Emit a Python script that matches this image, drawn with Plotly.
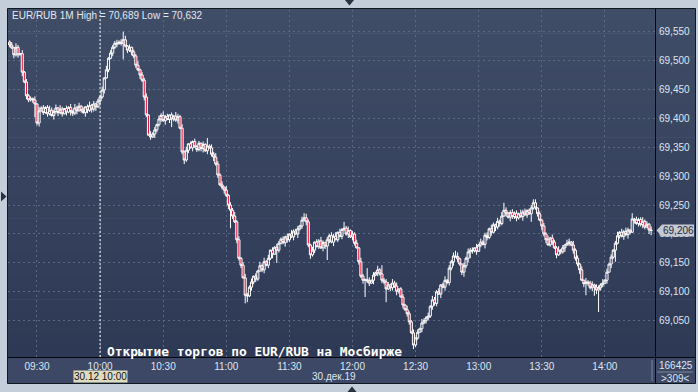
import plotly.graph_objects as go
import pandas as pd

# ------------------------------------------------------------------ data
start_time = "2019-12-30 09:17"          # first 1-minute candle
first_open = 532                          # thousandths above 69.000

closes_milli = [
    527, 522, 510, 523, 510, 512, 480, 463, 439, 432,
    434, 432, 425, 392, 413, 418, 410, 419, 408, 414,
    405, 412, 418, 410, 416, 408, 417, 411, 419, 412,
    409, 418, 413, 421, 414, 410, 420, 414, 422, 416,
    425, 420, 430, 437, 449, 470, 484, 504, 513, 523,
    530, 529, 532, 530, 536, 525, 518, 523, 515, 508,
    492, 484, 475, 466, 437, 406, 371, 368, 373, 380,
    389, 399, 405, 396, 403, 398, 406, 399, 404, 397,
    403, 383, 342, 328, 345, 356, 349, 360, 351, 346,
    357, 348, 355, 344, 352, 349, 338, 333, 321, 302,
    285, 281, 276, 267, 250, 241, 231, 221, 190, 158,
    146, 124, 94, 93, 108, 117, 127, 122, 136, 145,
    138, 152, 146, 158, 172, 165, 177, 172, 184, 191,
    185, 195, 190, 200, 195, 205, 200, 209, 214, 224,
    228, 221, 181, 164, 172, 186, 178, 188, 176, 185,
    179, 190, 197, 186, 196, 190, 203, 196, 208, 210,
    200, 206, 195, 200, 184, 176, 152, 127, 120, 121,
    119, 115, 120, 129, 133, 138, 131, 120, 117, 105,
    112, 107, 115, 110, 101, 105, 91, 77, 69, 62,
    48, 29, 8, 20, 30, 36, 46, 50, 55, 58,
    75, 86, 80, 100, 96, 112, 108, 120, 116, 141,
    152, 162, 161, 157, 148, 134, 145, 158, 169, 172,
    171, 176, 170, 181, 186, 182, 198, 194, 209, 203,
    216, 212, 222, 218, 231, 241, 236, 229, 237, 230,
    236, 228, 235, 230, 238, 233, 241, 235, 245, 254,
    245, 235, 224, 214, 200, 190, 181, 193, 186, 176,
    164, 172, 169, 176, 181, 184, 186, 181, 172, 158,
    148, 138, 120, 114, 117, 115, 107, 112, 108, 103,
    107, 112, 115, 120, 134, 148, 160, 172, 184, 197,
    203, 196, 204, 199, 207, 203, 226, 224, 218, 225,
    216, 222, 212, 217, 207, 206,
]

# upper / lower shadows per candle (thousandths), one digit per candle
wick_up_digits = (
    "3527416253 4261735248 5362741526 3746251473 5243617254 "
    "4635272514 3725461735 2647351427 5372614253 4152736425 "
    "3617254736 2574361527 4736152643 5261734526 3742615374 "
    "2536471625 4725361742 3615273645 5274613527 4361527436 "
    "2753614725 3647215364 5172634527 4263715246 3527461352 "
    "6142537264 3725146273 5261734625 4372615247 2637415263 "
    "473526"
)
wick_dn_digits = (
    "4263517264 3572614253 2746351627 5361427536 4725361425 "
    "3614725364 5273641527 4352716243 6247351624 3572614735 "
    "2463715264 5137264531 4625371642 3754261735 2647351426 "
    "5362714253 3726415362 4517263547 2653741625 5274316254 "
    "3645172635 4726351472 5361427536 2745316274 4632715263 "
    "3527461352 6243715264 4716253647 3542617352 5263741625 "
    "364271"
)

# long shadows (absolute, thousandths above 69.000)
high_spikes = {3: 527, 54: 550, 94: 366, 98: 340, 140: 236, 159: 221,
               170: 141, 177: 146, 212: 171, 235: 254, 249: 260, 265: 190,
               296: 236}
low_spikes = {12: 402, 13: 388, 54: 502, 77: 385, 105: 210, 112: 80,
              113: 82, 127: 150, 151: 155, 169: 91, 179: 82, 192: 3,
              207: 112, 216: 126, 219: 158, 248: 221, 274: 94, 278: 93,
              280: 65, 288: 152, 305: 198}

base_price = 69.0
last_price = 69.206
last_price_text = "69,206"

y_tick_vals = [69.05, 69.10, 69.15, 69.20, 69.25, 69.30, 69.35, 69.40, 69.45, 69.50, 69.55]
y_tick_text = ["69,050", "69,100", "69,150", "69,200", "69,250", "69,300",
               "69,350", "69,400", "69,450", "69,500", "69,550"]
x_tick_labels = ["09:30", "10:00", "10:30", "11:00", "11:30", "12:00",
                 "12:30", "13:00", "13:30", "14:00"]
x_range = ["2019-12-30 09:16:13", "2019-12-30 14:23:50"]
y_range = [68.9872, 69.5875]
marker_time = "2019-12-30 10:00"

title_text = "EUR/RUB 1M High = 70,689 Low = 70,632"
event_text = "Открытие торгов по EUR/RUB на Мосбирже"
marker_label = "30.12 10:00"
date_label = "30.дек.19"
volume_text = "166425"
count_text = ">309<"

# ------------------------------------------------------------------ build OHLC
n = len(closes_milli)
times = pd.date_range(start_time, periods=n, freq="1min")
opens_milli = [first_open] + closes_milli[:-1]
wu = [int(c) for c in wick_up_digits.replace(" ", "")]
wd = [int(c) for c in wick_dn_digits.replace(" ", "")]
if len(wu) < n:
    wu += [3] * (n - len(wu))
if len(wd) < n:
    wd += [3] * (n - len(wd))
highs_milli, lows_milli = [], []
for i in range(n):
    o, c = opens_milli[i], closes_milli[i]
    h = max(o, c) + wu[i]
    l = min(o, c) - wd[i]
    if i in high_spikes:
        h = max(h, high_spikes[i])
    if i in low_spikes:
        l = min(l, low_spikes[i])
    highs_milli.append(h)
    lows_milli.append(l)

to_price = lambda arr: [round(base_price + v / 1000.0, 3) for v in arr]

fig = go.Figure()
fig.add_trace(go.Candlestick(
    x=times,
    open=to_price(opens_milli), high=to_price(highs_milli),
    low=to_price(lows_milli), close=to_price(closes_milli),
    increasing=dict(line=dict(color="#ffffff", width=1), fillcolor="rgba(0,0,0,0)"),
    decreasing=dict(line=dict(color="#ffffff", width=1), fillcolor="#e8163c"),
    whiskerwidth=0, showlegend=False, hoverinfo="skip",
))

# ------------------------------------------------------------------ layout geometry
W, H = 698, 392
ML, MR, MT, MB = 8, 43, 10, 35
PW, PH = W - ML - MR, H - MT - MB
BOT = H - MB


def px(x):
    return (x - ML) / PW


def py(y):
    return (BOT - y) / PH


shapes = []
# gradient background for plot + right axis panel
top_c = (64, 77, 103)
bot_c = (46, 57, 85)
NB = 30
for k in range(NB):
    f = (k + 0.5) / NB
    col = tuple(round(top_c[j] + (bot_c[j] - top_c[j]) * f) for j in range(3))
    y0 = MT + (BOT - MT) * k / NB
    y1 = MT + (BOT - MT) * (k + 1) / NB + 0.6
    shapes.append(dict(type="rect", xref="paper", yref="paper", layer="below",
                       x0=px(7.5), x1=px(695.5), y0=py(y1), y1=py(y0),
                       fillcolor="rgb(%d,%d,%d)" % col, line=dict(width=0)))
shapes.append(dict(type="rect", xref="paper", yref="paper", layer="below",
                   x0=px(7.5), x1=px(695.5), y0=py(MT), y1=py(8.5),
                   fillcolor="rgb(64,77,103)", line=dict(width=0)))
# bottom time strip
shapes.append(dict(type="rect", xref="paper", yref="paper", layer="below",
                   x0=px(7.5), x1=px(695.5), y0=py(383.5), y1=py(BOT),
                   fillcolor="#3c4865", line=dict(width=0)))
# panel border
shapes.append(dict(type="rect", xref="paper", yref="paper", layer="above",
                   x0=px(7.5), x1=px(695.5), y0=py(383.5), y1=py(8.5),
                   fillcolor="rgba(0,0,0,0)", line=dict(color="#101820", width=1)))
# separator lines
shapes.append(dict(type="line", xref="paper", yref="paper", layer="above",
                   x0=px(7.5), x1=px(695.5), y0=py(BOT + 0.5), y1=py(BOT + 0.5),
                   line=dict(color="#05080c", width=1)))
shapes.append(dict(type="line", xref="paper", yref="paper", layer="above",
                   x0=px(655.5), x1=px(655.5), y0=py(383.5), y1=py(8.5),
                   line=dict(color="#05080c", width=1)))
shapes.append(dict(type="line", xref="paper", yref="paper", layer="above",
                   x0=px(652), x1=px(652), y0=py(381), y1=py(360),
                   line=dict(color="#7b879c", width=1)))
shapes.append(dict(type="line", xref="paper", yref="paper", layer="above",
                   x0=px(657), x1=px(693), y0=py(372), y1=py(372),
                   line=dict(color="#7b879c", width=1)))
# marker line at session open
shapes.append(dict(type="line", xref="x", yref="paper", layer="above",
                   x0=marker_time, x1=marker_time, y0=0, y1=1,
                   line=dict(color="#ffffff", width=1, dash="2px,2px")))


def tri(points, color):
    p = "M " + " L ".join("%f %f" % (px(a), py(b)) for a, b in points) + " Z"
    return dict(type="path", xref="paper", yref="paper", layer="above", path=p,
                fillcolor=color, line=dict(width=0))


shapes.append(tri([(345, 0), (354, 0), (349.5, 5.5)], "#26323f"))
shapes.append(tri([(1, 191.5), (1, 201.5), (6.5, 196.5)], "#26323f"))
shapes.append(tri([(347.5, 392), (356.5, 392), (352, 386.5)], "#26323f"))
# last-price tag
tag_y = BOT - (last_price - y_range[0]) / (y_range[1] - y_range[0]) * PH
shapes.append(tri([(656.5, tag_y), (662, tag_y - 6), (694, tag_y - 6),
                   (694, tag_y + 6), (662, tag_y + 6)], "#c5c9d1"))

annotations = [
    dict(text=title_text, xref="paper", yref="paper", x=px(10), y=py(15.5),
         xanchor="left", yanchor="middle", showarrow=False,
         font=dict(family="Liberation Sans", size=10, color="#e2e8f2")),
    dict(text="<b>" + event_text + "</b>", xref="paper", yref="paper", x=px(105), y=py(351.5),
         xanchor="left", yanchor="middle", showarrow=False,
         font=dict(family="DejaVu Sans Mono", size=12.9, color="#ffffff")),
    dict(text=marker_label, xref="paper", yref="paper", x=px(100.5), y=py(377),
         xanchor="center", yanchor="middle", showarrow=False, bgcolor="#dedcc0",
         borderpad=0, font=dict(family="Liberation Sans", size=10, color="#111111")),
    dict(text=date_label, xref="paper", yref="paper", x=px(334), y=py(377),
         xanchor="center", yanchor="middle", showarrow=False,
         font=dict(family="Liberation Sans", size=10, color="#dde5f2")),
    dict(text=volume_text, xref="paper", yref="paper", x=px(675.5), y=py(365),
         xanchor="center", yanchor="middle", showarrow=False,
         font=dict(family="Liberation Sans", size=10, color="#dde5f2")),
    dict(text=count_text, xref="paper", yref="paper", x=px(675.5), y=py(378),
         xanchor="center", yanchor="middle", showarrow=False,
         font=dict(family="Liberation Sans", size=10, color="#dde5f2")),
    dict(text=last_price_text, xref="paper", yref="y", x=px(678), y=last_price,
         xanchor="center", yanchor="middle", showarrow=False,
         font=dict(family="Liberation Sans", size=10, color="#1c2840")),
]

x_tick_vals = ["2019-12-30 " + t for t in x_tick_labels]
grid_col = "#5a6884"

fig.update_layout(
    width=W, height=H, autosize=False,
    margin=dict(l=ML, r=MR, t=MT, b=MB, pad=0),
    paper_bgcolor="#c4cedb", plot_bgcolor="rgba(0,0,0,0)",
    showlegend=False, boxgap=0, boxgroupgap=0,
    xaxis=dict(type="date", range=x_range, rangeslider=dict(visible=False),
               tickmode="array", tickvals=x_tick_vals, ticktext=x_tick_labels,
               showgrid=True, gridcolor=grid_col, griddash="2px,3px", gridwidth=1,
               zeroline=False, showline=False, ticks="", ticklabelstandoff=2,
               tickfont=dict(family="Liberation Sans", size=10, color="#dde5f2")),
    yaxis=dict(range=y_range, side="right", tickmode="array",
               tickvals=y_tick_vals, ticktext=y_tick_text,
               showgrid=True, gridcolor=grid_col, griddash="2px,3px", gridwidth=1,
               zeroline=False, showline=False, ticks="", ticklabelstandoff=3,
               tickfont=dict(family="Liberation Sans", size=10, color="#dde5f2")),
    shapes=shapes, annotations=annotations,
)

fig.write_html("out.html")
